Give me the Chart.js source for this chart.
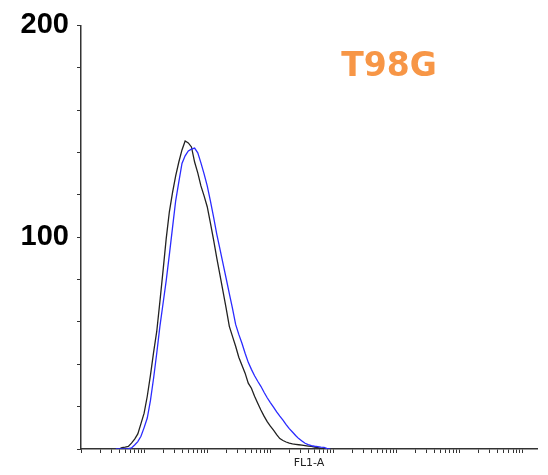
<!DOCTYPE html>
<html lang="en">
<head>
    <meta charset="UTF-8">
    <title>T98G FL1-A histogram</title>
    <script src="https://cdn.jsdelivr.net/npm/chart.js"></script>
    <style>
        body { margin: 0; background: #fff; }
        #wrap { width: 548px; height: 475px; }
    </style>
</head>
<body>

<div id="wrap">
    <canvas id="histChart" width="548" height="475"></canvas>
</div>

<script>
    // FL1-A channel position, as log10 of the intensity
    const fl1Log = [
        0.55, 0.60, 0.65, 0.70, 0.75, 0.80, 0.85, 0.90, 0.95, 1.00,
        1.05, 1.10, 1.15, 1.20, 1.25, 1.30, 1.35, 1.40, 1.45, 1.50,
        1.55, 1.60, 1.65, 1.70, 1.75, 1.80, 1.85, 1.90, 1.95, 2.00,
        2.05, 2.10, 2.15, 2.20, 2.25, 2.30, 2.35, 2.40, 2.45, 2.50,
        2.55, 2.60, 2.65, 2.70, 2.75, 2.80, 2.85, 2.90, 2.95, 3.00,
        3.05, 3.10, 3.15, 3.20, 3.25, 3.30, 3.35, 3.40, 3.45, 3.50,
        3.55, 3.60, 3.65, 3.70, 3.75, 3.80, 3.85, 3.90, 3.95
    ];

    // event counts, black trace
    const blackCounts = [
        0, 0, 0.7, 0.9, 1.2, 2.8, 4.7, 7.1, 12.0, 16.9,
        24.9, 34.8, 45.6, 55.5, 69.6, 84.2, 99.3, 112, 121, 129,
        135.5, 141.2, 145.4, 144.5, 142.6, 135.5, 130.4, 124.2, 119.5, 114.4,
        106.8, 98.8, 90.4, 82.4, 74.4, 66.4, 57.9, 53.2, 48.5, 43.3,
        39.5, 35.8, 31.1, 28.7, 24.9, 21.6, 18.4, 15.5, 12.9, 10.8,
        8.9, 6.8, 4.9, 4.0, 3.3, 2.8, 2.4, 2.2, 2.0, 1.8,
        1.6, 1.4, 1.2, 0.9, 0.7, 0.3, 0, 0, 0
    ];

    // event counts, blue trace
    const blueCounts = [
        0, 0, 0, 0.1, 0.2, 0.5, 1.9, 3.5, 6.0, 10.1,
        14.6, 22.8, 33.4, 45.2, 57.9, 68.7, 79.5, 91.8, 104.5, 117.2,
        126.1, 134.8, 138.4, 140.7, 141.6, 142.1, 139.8, 135.1, 129.9, 124.2,
        117.2, 109.6, 101.6, 94.6, 87.5, 80.5, 73.4, 66.4, 58.8, 54.1,
        49.9, 45.2, 40.9, 37.6, 34.6, 32.0, 29.6, 26.8, 24.2, 21.9,
        19.8, 17.5, 15.5, 13.6, 11.5, 9.6, 8.0, 6.4, 4.9, 3.8,
        2.7, 2.1, 1.6, 1.3, 1.1, 0.9, 0.8, 0.2, 0
    ];

    const yLabels = [100, 200];
    const sampleName = 'T98G';
    const xTitle = 'FL1-A';
    const fl1Max = 16777215;

    function toPoints(counts) {
        return counts.map((c, i) => ({ x: Math.pow(10, fl1Log[i]), y: c }));
    }

    const sampleLabel = {
        id: 'sampleLabel',
        afterDraw(chart) {
            const ctx = chart.ctx;
            ctx.save();
            ctx.font = 'bold 33px "DejaVu Sans"';
            ctx.fillStyle = '#F79646';
            ctx.textAlign = 'center';
            ctx.textBaseline = 'alphabetic';
            ctx.fillText(sampleName, 389, 76);
            ctx.restore();
        }
    };

    const ctx = document.getElementById('histChart').getContext('2d');
    new Chart(ctx, {
        type: 'line',
        data: {
            datasets: [{
                label: 'black',
                data: toPoints(blackCounts),
                borderColor: '#222222',
                borderWidth: 1.3,
                pointRadius: 0,
                fill: false,
                order: 1
            }, {
                label: 'blue',
                data: toPoints(blueCounts),
                borderColor: '#2b2bff',
                borderWidth: 1.3,
                pointRadius: 0,
                fill: false,
                order: 0
            }]
        },
        options: {
            responsive: false,
            animation: false,
            layout: { padding: { top: 24, right: 11, left: 0, bottom: 0 } },
            plugins: {
                legend: { display: false },
                tooltip: { enabled: false }
            },
            scales: {
                x: {
                    type: 'logarithmic',
                    min: 1,
                    max: fl1Max,
                    afterBuildTicks(scale) {
                        const ticks = [];
                        for (let k = 0; k <= 7; k++) {
                            for (let n = 1; n <= 9; n++) {
                                const v = n * Math.pow(10, k);
                                if (v <= fl1Max) ticks.push({ value: v });
                            }
                        }
                        scale.ticks = ticks;
                    },
                    afterFit(scale) { scale.height = 26; },
                    ticks: { autoSkip: false, maxRotation: 0, callback: () => '' },
                    grid: { drawOnChartArea: false, tickLength: 4, color: '#333', lineWidth: 1 },
                    border: { display: true, color: '#333', width: 1.5 },
                    title: {
                        display: true,
                        text: xTitle,
                        color: '#222',
                        font: { family: 'DejaVu Sans', size: 11 },
                        padding: { top: 0, bottom: 5 }
                    }
                },
                y: {
                    min: 0,
                    max: 200,
                    afterFit(scale) { scale.width = 81; },
                    ticks: {
                        stepSize: 20,
                        padding: 8,
                        color: '#000',
                        font: { family: 'Liberation Sans', size: 29, weight: 'bold' },
                        callback: v => yLabels.includes(v) ? String(v) : ''
                    },
                    grid: { drawOnChartArea: false, tickLength: 4, color: '#333', lineWidth: 1 },
                    border: { display: true, color: '#333', width: 1.5 }
                }
            }
        },
        plugins: [sampleLabel]
    });
</script>

</body>
</html>
